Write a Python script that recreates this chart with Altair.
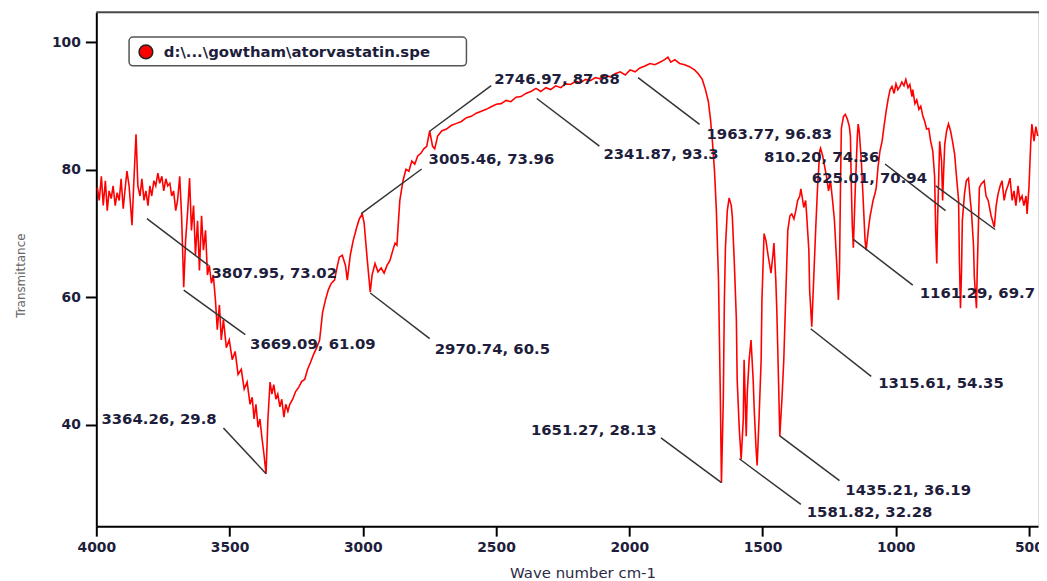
import altair as alt
import pandas as pd

# ---- spectrum (wave number cm-1, transmittance %) ----
wavenumber = [
    3996, 3989, 3981, 3974, 3966, 3959, 3952, 3944, 3937, 3929, 3922, 3914, 3907, 3899, 3892,
    3885, 3877, 3866, 3859, 3851, 3844, 3836, 3829, 3821, 3814, 3806, 3799, 3792, 3784, 3777,
    3769, 3762, 3754, 3747, 3739, 3732, 3724, 3717, 3710, 3702, 3695, 3687, 3680, 3672, 3665,
    3657, 3650, 3643, 3635, 3628, 3620, 3613, 3605, 3598, 3590, 3583, 3576, 3568, 3561, 3553,
    3546, 3538, 3531, 3523, 3512, 3501, 3490, 3479, 3468, 3456, 3445, 3434, 3423, 3415, 3408,
    3401, 3393, 3386, 3378, 3371, 3363, 3356, 3348, 3341, 3334, 3326, 3319, 3311, 3304, 3296,
    3289, 3281, 3274, 3263, 3252, 3240, 3229, 3218, 3207, 3196, 3185, 3173, 3162, 3151, 3140,
    3129, 3118, 3106, 3095, 3088, 3077, 3065, 3058, 3047, 3036, 3024, 3013, 3002, 2995, 2983,
    2972, 2965, 2954, 2943, 2931, 2920, 2909, 2898, 2887, 2879, 2872, 2861, 2849, 2838, 2827,
    2816, 2805, 2794, 2782, 2771, 2760, 2749, 2738, 2730, 2719, 2704, 2686, 2667, 2648, 2630,
    2611, 2593, 2574, 2555, 2537, 2518, 2499, 2481, 2462, 2444, 2425, 2406, 2388, 2369, 2350,
    2332, 2313, 2295, 2276, 2257, 2239, 2220, 2202, 2183, 2164, 2146, 2127, 2109, 2090, 2071,
    2053, 2034, 2015, 1997, 1978, 1960, 1941, 1922, 1904, 1885, 1867, 1855, 1844, 1829, 1811,
    1792, 1774, 1755, 1741, 1726, 1714, 1703, 1695, 1688, 1680, 1673, 1665, 1658, 1654, 1647,
    1643, 1639, 1632, 1625, 1617, 1613, 1606, 1598, 1595, 1587, 1580, 1572, 1569, 1561, 1557,
    1550, 1543, 1535, 1531, 1524, 1520, 1513, 1505, 1502, 1494, 1487, 1479, 1468, 1461, 1457,
    1450, 1446, 1439, 1435, 1427, 1420, 1412, 1405, 1397, 1390, 1382, 1375, 1368, 1360, 1356,
    1349, 1345, 1338, 1334, 1326, 1323, 1315, 1308, 1300, 1293, 1285, 1282, 1274, 1267, 1260,
    1252, 1245, 1237, 1230, 1222, 1215, 1211, 1207, 1204, 1196, 1189, 1181, 1174, 1170, 1167,
    1163, 1159, 1152, 1144, 1141, 1137, 1129, 1122, 1115, 1111, 1103, 1096, 1092, 1085, 1077,
    1073, 1066, 1059, 1051, 1044, 1036, 1029, 1021, 1014, 1006, 999, 992, 984, 977, 969,
    962, 954, 947, 939, 936, 928, 921, 913, 906, 898, 891, 884, 876, 869, 861,
    854, 850, 846, 843, 835, 828, 824, 820, 816, 809, 802, 794, 787, 779, 772,
    764, 761, 757, 753, 750, 742, 735, 727, 720, 716, 708, 705, 697, 694, 686,
    679, 668, 661, 653, 642, 630, 623, 616, 608, 601, 593, 586, 579, 571, 563,
    556, 549, 541, 534, 526, 519, 511, 507, 500, 493, 489, 481, 474, 467,
]
transmittance = [
    77.2, 75.2, 79.0, 74.4, 78.3, 73.6, 76.7, 75.5, 77.5, 74.4, 76.4, 75.2, 78.6, 73.9, 77.0,
    79.8, 77.5, 71.3, 78.3, 85.6, 77.5, 75.9, 78.6, 75.2, 76.7, 74.4, 77.5, 75.9, 78.3, 77.5,
    79.5, 77.9, 79.0, 76.7, 78.6, 77.5, 77.9, 75.9, 76.7, 73.6, 75.2, 79.0, 72.8, 61.6, 68.9,
    73.6, 78.7, 70.5, 74.4, 66.6, 72.0, 64.2, 72.8, 67.4, 70.5, 63.5, 65.0, 62.2, 63.5, 59.6,
    54.9, 58.8, 53.3, 56.5, 52.1, 53.3, 50.2, 51.5, 47.9, 48.7, 45.6, 46.7, 43.2, 44.3, 40.9,
    43.2, 39.6, 40.9, 37.8, 35.4, 32.3, 40.9, 46.7, 44.8, 46.3, 44.0, 44.8, 42.8, 44.0, 41.2,
    43.2, 42.1, 43.2, 44.0, 45.2, 45.9, 46.8, 47.1, 48.7, 49.8, 51.0, 52.1, 53.3, 57.6, 59.6,
    61.2, 62.2, 62.7, 65.0, 66.3, 66.6, 65.0, 62.7, 66.6, 68.9, 70.8, 72.3, 73.1, 71.7, 65.8,
    60.8, 63.5, 65.3, 64.0, 64.6, 63.8, 65.0, 65.8, 67.4, 68.5, 68.2, 75.2, 78.3, 80.1, 79.8,
    81.4, 80.9, 82.2, 82.6, 83.3, 83.7, 86.1, 83.7, 83.3, 85.3, 86.1, 86.4, 87.0, 87.3, 87.6,
    88.2, 88.4, 88.9, 89.2, 89.5, 89.9, 90.3, 90.4, 90.9, 90.7, 91.4, 91.5, 92.0, 92.3, 92.8,
    92.3, 92.9, 92.6, 93.2, 92.9, 93.5, 93.4, 93.9, 93.7, 94.2, 94.0, 94.5, 94.3, 94.8, 94.6,
    95.1, 95.4, 94.9, 95.7, 95.4, 96.0, 96.3, 96.7, 96.5, 96.9, 97.3, 97.7, 96.9, 97.3, 96.7,
    96.5, 96.2, 95.7, 95.1, 94.2, 92.6, 90.7, 87.9, 84.5, 79.8, 73.6, 62.7, 44.0, 30.9, 44.0,
    59.6, 67.8, 73.6, 75.6, 74.4, 72.5, 65.8, 56.5, 47.1, 39.3, 34.6, 40.9, 50.2, 38.2, 45.1,
    50.2, 53.3, 47.1, 42.4, 36.2, 33.6, 40.9, 50.2, 59.6, 70.0, 68.9, 66.6, 63.8, 66.6, 68.5,
    62.7, 57.6, 45.6, 38.2, 44.0, 50.2, 61.1, 70.5, 72.8, 73.1, 72.3, 73.6, 75.2, 75.9, 77.0,
    75.2, 74.1, 75.2, 72.8, 67.4, 61.1, 55.4, 62.7, 71.0, 77.5, 83.0, 83.4, 82.2, 80.6, 79.0,
    76.7, 78.3, 75.2, 72.1, 65.8, 59.6, 64.2, 78.3, 86.5, 88.4, 88.7, 87.9, 86.8, 85.3, 78.3,
    71.3, 67.8, 76.7, 85.3, 87.2, 86.1, 81.4, 75.2, 68.9, 67.4, 70.5, 72.8, 73.6, 75.2, 76.4,
    77.2, 80.6, 83.0, 84.5, 86.8, 89.2, 91.0, 92.6, 93.1, 92.0, 93.5, 92.6, 93.1, 93.8, 93.2,
    94.2, 92.9, 93.4, 91.5, 92.6, 90.4, 91.0, 89.5, 90.0, 88.4, 87.6, 86.4, 86.5, 84.5, 83.0,
    79.0, 70.5, 65.3, 72.0, 84.5, 81.4, 75.2, 79.8, 84.0, 86.1, 87.2, 86.1, 84.5, 82.5, 79.0,
    75.2, 65.8, 58.3, 64.2, 72.0, 76.2, 78.3, 78.7, 75.2, 73.6, 68.1, 63.2, 58.3, 64.2, 77.2,
    77.8, 78.3, 75.9, 75.2, 72.8, 71.0, 74.4, 76.2, 77.5, 78.3, 75.2, 76.7, 77.5, 78.7, 75.2,
    76.7, 74.4, 77.5, 75.2, 75.9, 74.4, 75.9, 73.1, 77.2, 84.5, 87.2, 84.5, 86.8, 85.3,
]

# ---- peak annotations ----
ann_text = [
    "3807.95, 73.02", "3669.09, 61.09", "3364.26, 29.8", "3005.46, 73.96", "2970.74, 60.5",
    "2746.97, 87.88", "2341.87, 93.3", "1963.77, 96.83", "810.20, 74.36", "625.01, 70.94",
    "1161.29, 69.7", "1315.61, 54.35", "1435.21, 36.19", "1581.82, 32.28", "1651.27, 28.13",
]
ann_peak_wn = [3810, 3672, 3363, 3006, 2972, 2749, 2347, 1967, 813, 627, 1159, 1319, 1435, 1587, 1654]
ann_peak_t = [72.35, 61.14, 32.32, 73.13, 60.67, 86.06, 91.20, 94.47, 73.60, 70.64, 69.08, 55.06, 38.24, 34.66, 30.92]
ann_end_wn = [3579, 3441, 3523, 2779, 2749, 2518, 2112, 1736, 1040, 850, 936, 1092, 1211, 1356, 1881]
ann_end_t = [65.0, 54.13, 39.49, 80.14, 53.51, 93.23, 83.72, 87.15, 80.92, 77.49, 61.92, 47.59, 31.23, 27.49, 37.93]
ann_text_wn = [3568, 3423, 3981, 2753, 2730, 2507, 2097, 1710, 1494, 1315, 910, 1066, 1189, 1334, 2369]
ann_text_t = [63.8, 52.73, 40.89, 81.70, 51.95, 94.32, 82.48, 85.59, 82.01, 78.74, 60.67, 46.50, 29.67, 26.25, 39.18]

legend_label = r"d:\...\gowtham\atorvastatin.spe"

x_ticks = [4000, 3500, 3000, 2500, 2000, 1500, 1000, 500]
y_ticks = [40, 60, 80, 100]

W, H = 949, 518
FONT = "DejaVu Sans"
TXT = "#1e1e3c"

spec = pd.DataFrame({"wn": wavenumber, "t": transmittance})
ann = pd.DataFrame({
    "label": ann_text, "pwn": ann_peak_wn, "pt": ann_peak_t,
    "ewn": ann_end_wn, "et": ann_end_t, "twn": ann_text_wn, "tt": ann_text_t,
})
one = pd.DataFrame({"label": [legend_label]})

xscale = alt.Scale(domain=[4000, 466], nice=False, zero=False)
yscale = alt.Scale(domain=[24.07, 104.75], nice=False, zero=False)

xaxis = alt.Axis(
    values=x_ticks, format="d", title="Wave number cm-1", grid=False,
    domainColor="black", domainWidth=2, tickColor="black", tickWidth=2, tickSize=10,
    labelFont=FONT, labelFontSize=14, labelFontWeight="bold", labelColor=TXT, labelPadding=4,
    titleFont=FONT, titleFontSize=15, titleFontWeight="normal", titleColor="#2a2a44",
    titleX=490, titleY=40, titleAlign="center", titleBaseline="top",
    labelFlush=False,
)
yaxis = alt.Axis(
    values=y_ticks, format="d", title="Transmittance", grid=False,
    domainColor="black", domainWidth=2, tickColor="black", tickWidth=2, tickSize=11,
    labelFont=FONT, labelFontSize=14, labelFontWeight="bold", labelColor=TXT, labelPadding=5,
    titleFont=FONT, titleFontSize=12, titleFontWeight="normal", titleColor="#666666",
    titleX=-76, titleY=265, titleAlign="center", titleBaseline="middle", titleAngle=270,
    labelFlush=False,
)

line = alt.Chart(spec).mark_line(color="#ff0000", strokeWidth=1.6).encode(
    x=alt.X("wn:Q", scale=xscale, axis=xaxis),
    y=alt.Y("t:Q", scale=yscale, axis=yaxis),
)

leaders = alt.Chart(ann).mark_rule(color="#333333", strokeWidth=1.5).encode(
    x=alt.X("pwn:Q", scale=xscale), y=alt.Y("pt:Q", scale=yscale),
    x2="ewn:Q", y2="et:Q",
)

labels = alt.Chart(ann).mark_text(
    align="left", baseline="middle", font=FONT, fontSize=15, fontWeight="bold", color=TXT
).encode(
    x=alt.X("twn:Q", scale=xscale), y=alt.Y("tt:Q", scale=yscale), text="label:N"
)

top_rule = alt.Chart(one).mark_rule(color="#4a4a4a", strokeWidth=2).encode(
    x=alt.value(0), x2=alt.value(W + 2), y=alt.value(0)
)

leg_box = alt.Chart(one).mark_rect(
    fill="white", stroke="#555555", strokeWidth=1.5, cornerRadius=4
).encode(x=alt.value(33), x2=alt.value(373), y=alt.value(25), y2=alt.value(54))

leg_dot = alt.Chart(one).mark_point(
    shape="circle", filled=True, fill="#ff0000", stroke="#222222", strokeWidth=1.5,
    size=190, opacity=1
).encode(x=alt.value(50), y=alt.value(40))

leg_txt = alt.Chart(one).mark_text(
    align="left", baseline="middle", font=FONT, fontSize=15, fontWeight="bold", color=TXT
).encode(x=alt.value(68), y=alt.value(40), text="label:N")

chart = alt.layer(line, leaders, labels, top_rule, leg_box, leg_dot, leg_txt).properties(
    width=W, height=H,
    autosize=alt.AutoSizeParams(type="none"),
    padding={"left": 89, "top": 2, "right": 1, "bottom": 54},
).configure_view(stroke=None).configure(background="white")

chart.save("out.html", embed_options={"renderer": "svg", "actions": False})
